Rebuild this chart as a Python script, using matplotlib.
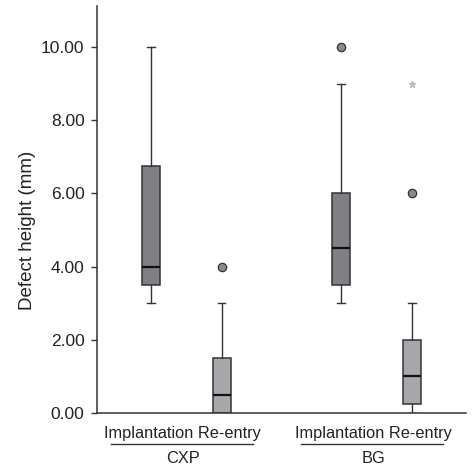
import matplotlib.pyplot as plt

plt.rcParams["font.family"] = ["Liberation Sans", "DejaVu Sans"]

# box statistics (mm)
groups = ["CXP", "BG"]
labels = ["Implantation", "Re-entry", "Implantation", "Re-entry"]
whislo = [3.0, 0.0, 3.0, 0.0]
q1 = [3.5, 0.0, 3.5, 0.25]
med = [4.0, 0.5, 4.5, 1.0]
q3 = [6.75, 1.5, 6.0, 2.0]
whishi = [10.0, 3.0, 9.0, 3.0]
outliers = [[], [4.0], [10.0], [6.0]]
extremes = [[], [], [], [9.0]]

positions = [1.0, 2.0, 3.7, 4.7]
box_colors = ["#7f8084", "#a7a8ac", "#7f8084", "#a7a8ac"]
edge = "#333333"


def main():
    fig = plt.figure(figsize=(4.76, 4.68), dpi=100)
    ax = fig.add_axes([0.204, 0.1175, 0.775, 0.8695])

    stats = []
    for i in range(len(labels)):
        stats.append(dict(whislo=whislo[i], q1=q1[i], med=med[i], q3=q3[i],
                          whishi=whishi[i], fliers=[], label=labels[i]))

    bp = ax.bxp(stats, positions=positions, widths=0.255, capwidths=0.11,
                patch_artist=True, showfliers=False,
                boxprops=dict(edgecolor=edge, linewidth=1.1),
                whiskerprops=dict(color=edge, linewidth=1.0),
                capprops=dict(color=edge, linewidth=1.0),
                medianprops=dict(color="#111111", linewidth=1.6))
    for patch, c in zip(bp["boxes"], box_colors):
        patch.set_facecolor(c)

    # outliers (circles) and extremes (stars)
    for x, pts in zip(positions, outliers):
        if pts:
            ax.plot([x] * len(pts), pts, "o", markersize=6, markerfacecolor="#8a8a8e",
                    markeredgecolor="#333333", markeredgewidth=0.9, zorder=5)
    for x, pts in zip(positions, extremes):
        if pts:
            ax.plot([x] * len(pts), pts, "*", markersize=5, color="#bdbdc0", zorder=5)

    ax.set_xlim(0.234, 5.47)
    ax.set_ylim(0, 11.12)
    ax.set_yticks([0, 2, 4, 6, 8, 10])
    ax.set_yticklabels([f"{v:.2f}" for v in [0, 2, 4, 6, 8, 10]], fontsize=12.5, color="#222222")
    ax.tick_params(axis="y", direction="out", length=4, width=1, color="#333333", pad=5)
    ax.set_xticks([])
    ax.set_ylabel("Defect height (mm)", fontsize=13.5, color="#222222")
    ax.yaxis.set_label_coords(-0.165, 0.45)

    for side in ["top", "right"]:
        ax.spines[side].set_visible(False)
    for side in ["left", "bottom"]:
        ax.spines[side].set_color("#333333")
        ax.spines[side].set_linewidth(1.1)

    # grouped x labels with underline
    trans = ax.get_xaxis_transform()
    for g, name in enumerate(groups):
        a, b = positions[2 * g], positions[2 * g + 1]
        mid = (a + b) / 2
        ax.text(mid - 0.05, -0.05, f"{labels[2 * g]} {labels[2 * g + 1]}", transform=trans,
                ha="center", va="center", fontsize=11.8, color="#222222", clip_on=False)
        ax.plot([mid - 1.07, mid + 0.95], [-0.077, -0.077], transform=trans,
                color="#333333", linewidth=1.0, clip_on=False)
        ax.text(mid - 0.05, -0.113, name, transform=trans, ha="center", va="center",
                fontsize=11.8, color="#222222", clip_on=False)

    fig.savefig("out.png", dpi=100)
    plt.close(fig)


if __name__ == "__main__":
    main()
